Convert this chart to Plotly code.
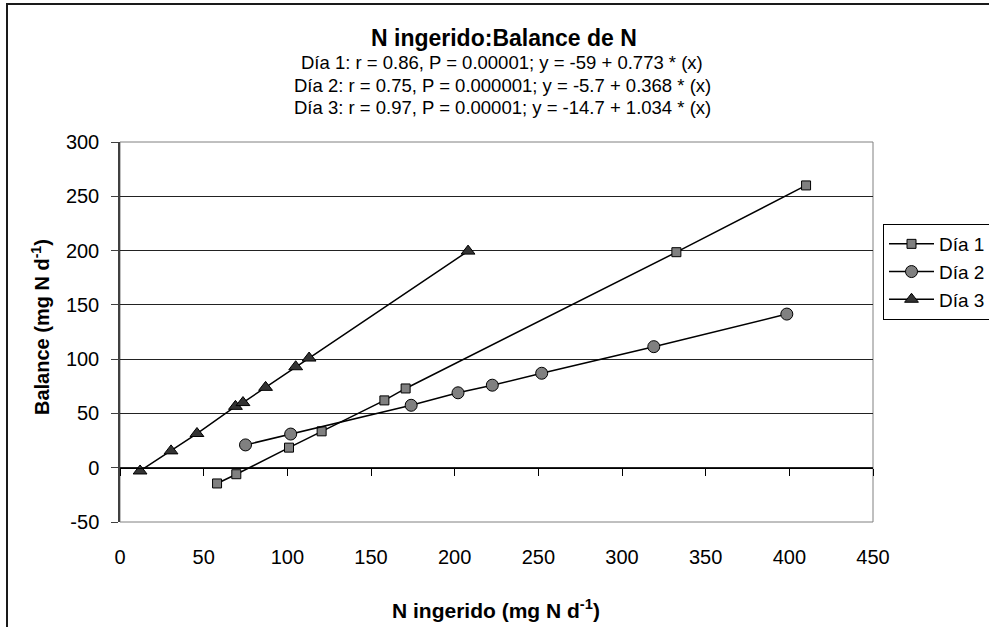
import plotly.graph_objects as go

# ---- data ----
dia1_x = [58, 69.5, 101, 120.5, 158, 170.7, 332.5, 410]
dia1_y = [-14.5, -6, 18.5, 33.5, 62, 73, 198.5, 260]

dia2_x = [75, 102, 174, 202, 222.5, 252, 319, 398.5]
dia2_y = [21, 31, 57.5, 69, 76, 87, 111.5, 141.5]

dia3_x = [12, 30.5, 46, 69, 73.5, 87, 105, 113, 208]
dia3_y = [-3, 15.5, 31.5, 56.5, 60, 74, 93, 101, 199.5]

series_names = ["Día 1", "Día 2", "Día 3"]
x_ticks = [0, 50, 100, 150, 200, 250, 300, 350, 400, 450]
y_ticks = [-50, 0, 50, 100, 150, 200, 250, 300]

title_text = "<b>N ingerido:Balance de N</b>"
subtitle_lines = [
    "Día 1: r = 0.86, P = 0.00001; y = -59 + 0.773 * (x)",
    "Día 2: r = 0.75, P = 0.000001; y = -5.7 + 0.368 * (x)",
    "Día 3: r = 0.97, P = 0.00001; y = -14.7 + 1.034 * (x)",
]
x_title = "<b>N ingerido (mg N d<sup>-1</sup>)</b>"
y_title = "<b>Balance (mg N d<sup>-1</sup>)</b>"

FONT = "Liberation Sans, Arial, sans-serif"
W, H = 989, 627
L, R, T, B = 120, 116, 142, 105
PW, PH = W - L - R, H - T - B


def px_x(p):
    return (p - L) / PW


def px_y(p):
    return (H - B - p) / PH


fig = go.Figure()
fig.add_trace(go.Scatter(
    x=dia1_x, y=dia1_y, name=series_names[0], mode="lines+markers",
    line=dict(color="black", width=1.5),
    marker=dict(symbol="square", size=9, color="#808080", line=dict(color="black", width=1)),
))
fig.add_trace(go.Scatter(
    x=dia2_x, y=dia2_y, name=series_names[1], mode="lines+markers",
    line=dict(color="black", width=1.5),
    marker=dict(symbol="circle", size=12, color="#808080", line=dict(color="black", width=1)),
))
fig.add_trace(go.Scatter(
    x=dia3_x, y=dia3_y, name=series_names[2], mode="lines+markers",
    line=dict(color="black", width=1.5),
    marker=dict(symbol="triangle-up", size=12, color="#333333", line=dict(color="black", width=1)),
))
# helper trace that makes the zero-crossing axis exist
fig.add_trace(go.Scatter(x=[], y=[], xaxis="x2", yaxis="y", showlegend=False, hoverinfo="skip"))

annotations = [
    dict(text=title_text, x=px_x(504), y=px_y(38), xref="paper", yref="paper",
         showarrow=False, xanchor="center", yanchor="middle",
         font=dict(family=FONT, size=23, color="black")),
]
for i, line in enumerate(subtitle_lines):
    annotations.append(dict(text=line, x=px_x(502), y=px_y(63 + 22.5 * i), xref="paper", yref="paper",
                            showarrow=False, xanchor="center", yanchor="middle",
                            font=dict(family=FONT, size=18.5, color="black")))
annotations.append(dict(text=x_title, x=px_x(496), y=px_y(609), xref="paper", yref="paper",
                        showarrow=False, xanchor="center", yanchor="middle",
                        font=dict(family=FONT, size=21, color="black")))
annotations.append(dict(text=y_title, x=px_x(40), y=px_y(327), xref="paper", yref="paper",
                        showarrow=False, xanchor="center", yanchor="middle", textangle=-90,
                        font=dict(family=FONT, size=20, color="black")))

shapes = [
    # plot-area border
    dict(type="rect", xref="paper", yref="paper", x0=0, x1=1, y0=0, y1=1,
         line=dict(color="#808080", width=1), layer="below"),
    # chart-area border (right/bottom fall outside the picture)
    dict(type="rect", xref="paper", yref="paper",
         x0=px_x(7), x1=px_x(1010), y0=px_y(650), y1=px_y(4),
         line=dict(color="#1a1a1a", width=2), layer="below"),
]

fig.update_layout(
    width=W, height=H,
    margin=dict(l=L, r=R, t=T, b=B, autoexpand=False),
    paper_bgcolor="white", plot_bgcolor="white",
    font=dict(family=FONT, size=20, color="black"),
    showlegend=True,
    legend=dict(x=px_x(883), y=px_y(224), xanchor="left", yanchor="top",
                bordercolor="black", borderwidth=1, bgcolor="white",
                font=dict(family=FONT, size=19, color="black"),
                itemwidth=45, tracegroupgap=0),
    xaxis=dict(range=[0, 450], tickvals=x_ticks, ticktext=[str(v) for v in x_ticks],
               showgrid=False, zeroline=False,
               showline=False, ticks="", ticklabelstandoff=21,
               tickfont=dict(family=FONT, size=20, color="black")),
    xaxis2=dict(range=[0, 450], tickvals=x_ticks, overlaying="x", anchor="free",
                position=50 / 350, side="bottom", showgrid=False, zeroline=False,
                showline=True, linecolor="black", linewidth=1,
                ticks="outside", ticklen=7, tickcolor="black", tickwidth=1,
                showticklabels=False),
    yaxis=dict(range=[-50, 300], tickvals=y_ticks, ticktext=[str(v) for v in y_ticks],
               showgrid=True, gridcolor="#222222",
               gridwidth=1, zeroline=False, showline=True, linecolor="#404040", linewidth=1.5,
               ticks="outside", ticklen=7, tickcolor="#404040", ticklabelstandoff=8,
               tickfont=dict(family=FONT, size=20, color="black")),
    annotations=annotations,
    shapes=shapes,
)

fig.write_html("out.html")
